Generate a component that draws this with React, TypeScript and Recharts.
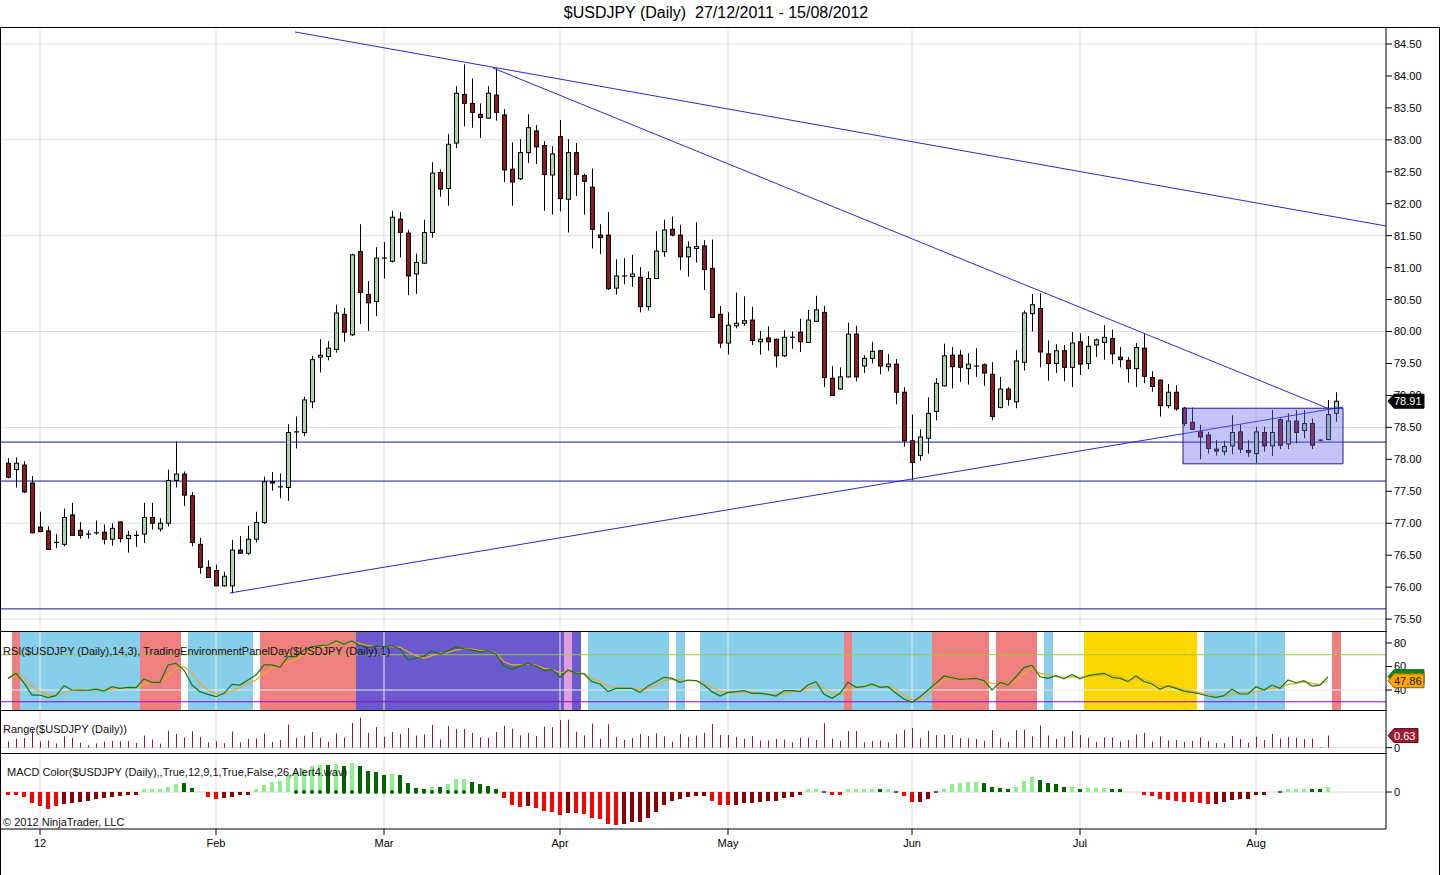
import React from "react";
import {
  ComposedChart,
  Bar,
  Line,
  XAxis,
  YAxis,
  ReferenceLine,
  ReferenceArea,
  ReferenceDot,
} from "recharts";

// ---------------- DATA ----------------
const opens = [
  77.94, 77.84, 77.91, 77.63, 76.94, 76.88, 76.70, 76.67, 77.13, 76.89,
  76.83, 76.85, 76.86, 76.75, 77.02, 76.76, 76.81, 76.83, 77.09, 76.91,
  77.00, 77.67, 77.77, 77.43, 76.67, 76.31, 76.26, 76.02, 76.02, 76.58,
  76.53, 76.75, 77.01, 77.65, 77.57, 77.56, 78.43, 78.42, 78.90, 79.60,
  79.61, 79.72, 80.27, 79.95, 81.25, 80.58, 80.47, 81.14, 81.10, 81.76,
  81.54, 80.90, 81.07, 81.55, 82.49, 82.24, 82.95, 83.71, 83.57, 83.40,
  83.34, 83.70, 83.39, 82.54, 82.39, 82.80, 83.14, 82.91, 82.45, 83.05,
  82.07, 82.80, 82.44, 82.26, 81.51, 81.51, 80.68, 80.87, 80.86, 80.85,
  80.39, 80.83, 81.25, 81.60, 81.51, 81.17, 81.30, 81.34, 80.99, 80.27,
  79.82, 80.09, 80.13, 80.18, 79.84, 79.90, 79.88, 79.62, 79.91, 79.99,
  79.83, 80.16, 80.30, 79.27, 79.10, 79.29, 79.96, 79.46, 79.58, 79.70,
  79.45, 79.49, 79.05, 78.29, 78.06, 78.33, 78.75, 79.15, 79.63, 79.63,
  79.42, 79.46, 79.48, 79.33, 78.81, 79.10, 78.90, 79.52, 80.28, 80.36,
  79.65, 79.50, 79.70, 79.44, 79.84, 79.50, 79.79, 79.83, 79.89, 79.60,
  79.55, 79.42, 79.74, 79.28, 79.24, 78.84, 79.05, 78.80, 78.58, 78.43,
  78.38, 78.16, 78.12, 78.21, 78.43, 78.14, 78.09, 78.42, 78.21, 78.62,
  78.24, 78.60, 78.45, 78.56, 78.30, 78.31, 78.72,
];
const highs = [
  78.02, 78.03, 77.97, 77.74, 77.18, 76.95, 76.83, 77.23, 77.32, 77.02,
  76.89, 77.04, 76.98, 77.00, 77.03, 76.88, 76.88, 77.32, 77.32, 77.08,
  77.84, 78.28, 77.81, 77.49, 76.77, 76.42, 76.35, 76.24, 76.74, 76.80,
  76.96, 77.18, 77.73, 77.80, 77.78, 78.55, 78.67, 78.98, 79.62, 79.88,
  79.85, 80.42, 80.37, 81.22, 81.68, 80.79, 81.32, 81.40, 81.89, 81.87,
  81.59, 81.22, 81.75, 82.65, 82.54, 83.09, 83.84, 84.18, 83.96, 83.57,
  83.84, 84.12, 83.48, 82.96, 83.01, 83.40, 83.23, 82.98, 82.90, 83.31,
  83.01, 82.95, 82.47, 82.55, 81.68, 81.87, 81.13, 81.15, 81.20, 81.01,
  80.94, 81.57, 81.75, 81.80, 81.67, 81.41, 81.71, 81.43, 81.44, 80.40,
  80.30, 80.61, 80.55, 80.39, 80.01, 80.08, 79.89, 80.02, 80.00, 80.20,
  80.34, 80.56, 80.40, 79.46, 79.44, 80.14, 80.09, 79.63, 79.84, 79.71,
  79.65, 79.57, 79.13, 78.70, 78.47, 78.97, 79.27, 79.81, 79.76, 79.71,
  79.66, 79.74, 79.50, 79.52, 79.29, 79.13, 79.71, 80.33, 80.59, 80.60,
  79.86, 79.80, 79.79, 79.99, 79.97, 79.93, 79.89, 80.10, 80.03, 79.76,
  79.60, 79.82, 79.96, 79.38, 79.25, 79.18, 79.16, 78.82, 78.81, 78.54,
  78.43, 78.30, 78.29, 78.69, 78.55, 78.30, 78.51, 78.51, 78.77, 78.64,
  78.72, 78.77, 78.77, 78.64, 78.31, 78.93, 79.05,
];
const lows = [
  77.70, 77.56, 77.47, 76.84, 76.86, 76.58, 76.61, 76.64, 76.81, 76.76,
  76.76, 76.82, 76.67, 76.65, 76.70, 76.54, 76.63, 76.69, 76.90, 76.87,
  76.95, 77.56, 77.27, 76.64, 76.21, 76.15, 76.02, 76.01, 75.90, 76.53,
  76.50, 76.70, 76.99, 77.51, 77.39, 77.35, 78.17, 78.36, 78.80, 79.36,
  79.55, 79.67, 79.84, 79.93, 80.12, 80.01, 80.24, 80.83, 81.08, 81.16,
  80.57, 80.59, 81.06, 81.47, 82.11, 81.97, 82.87, 83.21, 83.19, 83.03,
  83.33, 83.30, 82.34, 81.97, 82.37, 82.64, 82.62, 81.89, 81.83, 81.88,
  81.55, 82.12, 81.83, 81.30, 81.21, 80.65, 80.58, 80.74, 80.70, 80.30,
  80.33, 80.82, 81.17, 81.49, 80.96, 80.86, 81.08, 80.65, 80.21, 79.74,
  79.64, 80.05, 80.09, 79.79, 79.64, 79.70, 79.44, 79.60, 79.73, 79.68,
  79.82, 80.15, 79.13, 78.99, 79.09, 79.28, 79.22, 79.35, 79.50, 79.33,
  79.38, 78.86, 78.20, 77.67, 77.98, 78.09, 78.61, 79.14, 79.11, 79.21,
  79.17, 79.29, 79.15, 78.61, 78.80, 78.84, 78.80, 79.39, 80.00, 79.44,
  79.23, 79.35, 79.22, 79.13, 79.32, 79.41, 79.60, 79.56, 79.49, 79.44,
  79.20, 79.13, 79.19, 79.06, 78.67, 78.80, 78.76, 78.52, 78.46, 78.00,
  78.09, 78.06, 78.06, 78.08, 78.10, 78.04, 77.94, 78.12, 78.05, 78.16,
  78.16, 78.25, 78.33, 78.16, 78.28, 78.30, 78.59,
];
const closes = [
  77.72, 77.94, 77.49, 76.85, 76.87, 76.59, 76.70, 77.09, 76.81, 76.81,
  76.82, 76.84, 76.75, 76.92, 76.76, 76.81, 76.81, 77.09, 77.00, 77.00,
  77.67, 77.77, 77.44, 76.70, 76.31, 76.15, 76.02, 76.17, 76.58, 76.53,
  76.75, 77.01, 77.65, 77.63, 77.57, 78.42, 78.43, 78.93, 79.56, 79.63,
  79.74, 80.29, 79.99, 81.20, 80.61, 80.45, 81.15, 81.15, 81.79, 81.55,
  80.87, 81.08, 81.55, 82.48, 82.23, 82.93, 83.73, 83.57, 83.43, 83.35,
  83.73, 83.43, 82.53, 82.34, 82.80, 83.19, 82.89, 82.46, 82.78, 82.08,
  82.80, 82.46, 82.35, 81.60, 81.47, 80.67, 80.87, 80.87, 80.90, 80.39,
  80.83, 81.26, 81.59, 81.51, 81.17, 81.32, 81.33, 80.97, 80.22, 79.82,
  80.10, 80.13, 80.17, 79.86, 79.88, 79.84, 79.62, 79.91, 79.91, 79.84,
  80.18, 80.34, 79.28, 79.00, 79.29, 79.96, 79.29, 79.58, 79.69, 79.46,
  79.49, 79.05, 78.29, 77.95, 78.35, 78.72, 79.19, 79.62, 79.45, 79.44,
  79.49, 79.46, 79.35, 78.67, 79.10, 78.94, 79.54, 80.29, 80.42, 79.68,
  79.50, 79.70, 79.44, 79.82, 79.49, 79.77, 79.87, 79.91, 79.65, 79.56,
  79.42, 79.75, 79.30, 79.14, 78.84, 79.05, 78.79, 78.56, 78.47, 78.35,
  78.17, 78.13, 78.20, 78.42, 78.16, 78.11, 78.43, 78.21, 78.42, 78.22,
  78.60, 78.42, 78.56, 78.22, 78.29, 78.70, 78.91,
];

const rsiValues = [
  49.9, 54.2, 46, 35.7, 35.7, 33.5, 35.2, 43.7, 40, 39.8,
  39.8, 40.8, 39.1, 42.8, 41.4, 42.3, 42, 49.4, 46.5, 46.5,
  61.3, 62.7, 57, 44.2, 38.6, 36.3, 34.3, 37.2, 44.8, 44.2,
  48.5, 52.8, 61.3, 61.3, 59.3, 68.4, 68.4, 74, 76.9, 77.7,
  78.3, 81.7, 79.1, 81.7, 77.7, 76, 77.4, 76.9, 77.7, 74.9,
  65.5, 67, 68.9, 73.2, 70.4, 73.2, 76.9, 74.9, 74, 72.6,
  73.5, 70.6, 60.4, 57.6, 60.4, 62.7, 60.4, 56.5, 57.6, 50.8,
  57, 54.2, 53.6, 47.1, 45.1, 38.6, 41.4, 41.4, 41.4, 38,
  43.4, 47.1, 50.8, 49.9, 46.5, 48.5, 48, 44.2, 38.6, 34.9,
  38, 38.6, 39.4, 37.2, 37.2, 36.3, 34.9, 39.4, 39.4, 38.6,
  44.2, 47.1, 36.3, 32.9, 37.2, 46.5, 42.3, 42.8, 45.1, 42.3,
  42.8, 37.2, 32.3, 29.5, 34.3, 40, 45.7, 51.9, 50.5, 49.1,
  49.4, 49.9, 48, 40, 46.5, 44.2, 51.3, 59.3, 61, 51.3,
  49.9, 52.2, 49.4, 53.3, 49.4, 52.2, 53.3, 54.2, 50.8, 49.9,
  47.1, 52.2, 47.1, 45.1, 40.6, 43.7, 41.4, 39.1, 38, 36.6,
  34.9, 33.8, 35.2, 40.6, 36.6, 36.6, 42.8, 40, 44.2, 41.4,
  48.5, 46.2, 48, 43.4, 44.2, 51.3,
];
const rsiAvgValues = [
  50, 52.8, 50, 42.8, 38.6, 35.7, 35.7, 37.7, 40, 40.5,
  39.8, 40, 40, 40.8, 41.4, 42, 42, 44.8, 46.5, 47,
  52.2, 58.4, 59.9, 54.2, 45.7, 40, 37.2, 36.6, 39.1, 42,
  45.7, 48.5, 54.2, 58.4, 60.4, 63.5, 66.1, 70.4, 73.5, 76,
  77.7, 79.7, 79.7, 80.6, 79.7, 77.7, 76.9, 76.9, 76.9, 76.3,
  72.6, 69.2, 67, 69.2, 71.2, 72, 74, 74.9, 74.9, 73.5,
  73.5, 71.2, 64.1, 61.3, 61.3, 62.1, 61.3, 58.4, 57.6, 54.7,
  55.6, 54.7, 54.2, 49.9, 47.1, 43.4, 42.3, 41.4, 41.4, 40,
  41.4, 44.2, 48, 49.1, 48.5, 48, 48, 46.2, 42.3, 38.6,
  37.7, 37.9, 38.6, 37.9, 37.2, 36.6, 35.7, 37.2, 38.6, 39.1,
  41.4, 44.2, 41.4, 37.2, 35.7, 40, 42.3, 43.4, 44.2, 43.4,
  42.8, 40.6, 35.7, 32.3, 32.1, 36.6, 44.2, 48.5, 49.9, 50.2,
  49.9, 49.9, 48.5, 45.7, 45.1, 44.2, 48, 54.2, 58.4, 54.2,
  52.8, 51.3, 50.8, 51.3, 50.8, 51.3, 52.2, 53.3, 52.8, 51.3,
  48.5, 49.9, 49.1, 46.2, 43.4, 42.8, 42.3, 40, 39.1, 37.7,
  36.3, 34.9, 34.7, 36.6, 37.2, 37.7, 38.6, 40, 41.4, 42.3,
  44.8, 45.7, 47.1, 45.7, 44.8, 47.86,
];

const macdValues = [
  -0.01, -0.01, -0.05, -0.11, -0.14, -0.17, -0.14, -0.12, -0.11, -0.10,
  -0.09, -0.07, -0.06, -0.05, -0.04, -0.03, -0.01, 0.01, 0.01, 0.02,
  0.05, 0.08, 0.09, 0.04, 0, -0.05, -0.07, -0.06, -0.05, -0.03,
  -0.01, 0.01, 0.07, 0.10, 0.11, 0.17, 0.21, 0.23, 0.26, 0.27,
  0.27, 0.28, 0.26, 0.29, 0.26, 0.21, 0.20, 0.17, 0.18, 0.17,
  0.09, 0.04, 0.02, 0.05, 0.05, 0.08, 0.13, 0.13, 0.10, 0.08,
  0.06, 0.02, -0.06, -0.13, -0.15, -0.14, -0.16, -0.19, -0.20, -0.23,
  -0.21, -0.21, -0.22, -0.26, -0.27, -0.32, -0.33, -0.32, -0.30, -0.30,
  -0.26, -0.20, -0.13, -0.09, -0.07, -0.05, -0.04, -0.04, -0.09, -0.13,
  -0.13, -0.13, -0.11, -0.11, -0.10, -0.09, -0.09, -0.06, -0.05, -0.03,
  0.005, 0.02, -0.005, -0.03, -0.03, 0.005, 0.005, 0.01, 0.01, 0.01,
  0.005, -0.005, -0.04, -0.10, -0.10, -0.07, -0.005, 0.03, 0.08, 0.09,
  0.10, 0.10, 0.09, 0.05, 0.04, 0.03, 0.05, 0.11, 0.15, 0.12,
  0.09, 0.08, 0.05, 0.05, 0.03, 0.04, 0.04, 0.04, 0.02, 0.01,
  0, 0, -0.01, -0.04, -0.07, -0.08, -0.09, -0.10, -0.10, -0.11,
  -0.12, -0.12, -0.10, -0.08, -0.07, -0.07, -0.03, -0.02, 0, -0.005,
  0.01, 0.02, 0.03, 0.03, 0.03, 0.05,
];
// R = falling red, r = rising dark red, G = rising light green, g = falling dark green, n = neutral
const macdColorCodes =
  "RRRRRRR" + "rrrrrrrrrr" + "GGGGG" + "gg" + "n" + "RR" + "rrrr" + "GGGGGGGGG" +
  "g" + "G" + "g" + "G" + "gggg" + "G" + "gggg" + "G" + "g" + "GGG" + "gggg" +
  "RRR" + "r" + "RRRR" + "r" + "RRRRRR" + "rrrrrrrrrrr" + "RRR" + "rrrrrrrrr" +
  "GG" + "n" + "RR" + "GGGG" + "g" + "G" + "n" + "RR" + "rr" + "n" + "GGGGG" +
  "gggg" + "GGG" + "gggg" + "G" + "g" + "GGG" + "gg" + "nn" + "RRRRRRRRR" +
  "rrrrrrr" + "nn" + "GGG" + "gg" + "G";
const macdZeroDotFrom = 36;
const macdZeroDotTo = 61;

// Trading environment background: [code, firstBar, lastBar]
const bandSegments: [string, number, number][] = [
  ["W", 0, 0], ["R", 1, 1], ["B", 2, 16], ["R", 17, 21], ["W", 22, 22],
  ["B", 23, 30], ["W", 31, 31], ["R", 32, 43], ["S", 44, 69], ["P", 70, 70],
  ["S", 71, 71], ["W", 72, 72], ["B", 73, 82], ["W", 83, 83], ["B", 84, 84],
  ["W", 85, 86], ["B", 87, 104], ["R", 105, 105], ["B", 106, 115], ["R", 116, 122],
  ["W", 123, 123], ["R", 124, 128], ["W", 129, 129], ["B", 130, 130], ["W", 131, 134],
  ["Y", 135, 148], ["W", 149, 149], ["B", 150, 159], ["W", 160, 165], ["R", 166, 166],
];

const monthTickBars = [4, 26, 47, 69, 90, 113, 134, 156];
const monthTickLabels = ["12", "Feb", "Mar", "Apr", "May", "Jun", "Jul", "Aug"];
const priceTicks = [
  75.5, 76, 76.5, 77, 77.5, 78, 78.5, 79, 79.5, 80, 80.5, 81, 81.5, 82, 82.5, 83, 83.5, 84, 84.5,
];
const priceGridValues = [75.5, 77, 78.5, 80, 81.5, 83, 84.5];
const rsiTicks = [40, 60, 80];
const horizontalLevels = [78.27, 77.66, 75.66];
const trendLines: [number, number, number, number][] = [
  [35.875, 84.688, 172.25, 81.652],
  [60.625, 84.124, 165.25, 78.785],
  [27.75, 75.909, 166.875, 78.819],
];
const consolidationBox = { x1: 146.875, x2: 166.875, y1: 77.93, y2: 78.8 };

// ---------------- STYLE ----------------
const FONT = '"Liberation Sans", Arial, Helvetica, sans-serif';
const X_DOMAIN: [number, number] = [-1, 172.25];
const PRICE_DOMAIN: [number, number] = [75.298, 84.766];
const RSI_DOMAIN: [number, number] = [22.13, 89.36];
const RANGE_DOMAIN: [number, number] = [-0.33, 1.91];
const MACD_DOMAIN: [number, number] = [-0.37, 0.38];
const UP = "#a8d6a8";
const DOWN = "#8b1c1c";
const NAVY = "#12129a";
const TREND = "#2a2ad0";
const GRID = "#dcdcdc";
const BAND_COLORS: Record<string, string> = {
  R: "#f08080",
  B: "#87ceeb",
  S: "#6a5acd",
  P: "#dda0dd",
  Y: "#ffd700",
};
const MACD_COLORS: Record<string, string> = {
  R: "#ff0000",
  r: "#8b0000",
  G: "#90ee90",
  g: "#006400",
  n: "#555555",
};
const MARGIN = { top: 0, right: 0, bottom: 0, left: 0 };
const tickStyle = { fontSize: 11, fill: "#000", fontFamily: FONT };

// ---------------- DERIVED TABLES ----------------
const bandCodes: string[] = [];
bandSegments.forEach(([c, a, b]) => {
  for (let k = a; k <= b; k++) bandCodes[k] = c;
});

const candles = opens.map((o, i) => ({
  i,
  o,
  h: highs[i],
  l: lows[i],
  c: closes[i],
  hl: [lows[i], highs[i]],
}));

const rsiData = opens.map((_, i) => ({
  i,
  band: bandCodes[i] || "W",
  span: [RSI_DOMAIN[0], RSI_DOMAIN[1]],
  rsi: i < rsiValues.length ? rsiValues[i] : null,
  avg: i < rsiAvgValues.length ? rsiAvgValues[i] : null,
}));

const rangeData = rsiValues.map((_, i) => ({ i, r: +(highs[i] - lows[i]).toFixed(2) }));

const macdData = macdValues.map((v, i) => ({
  i,
  v,
  code: macdColorCodes[i] || "n",
  dot: i >= macdZeroDotFrom && i <= macdZeroDotTo ? 0 : null,
}));

// ---------------- SHAPES ----------------
function Candle(props: any) {
  const { x, y, width, height, payload } = props;
  if (x == null || y == null || !payload) return <g />;
  const top = Math.min(y, y + height);
  const bottom = Math.max(y, y + height);
  const span = payload.h - payload.l;
  const k = span > 0 ? (bottom - top) / span : 0;
  const yOf = (p: number) => top + (payload.h - p) * k;
  const cx = Math.round(x + width / 2) + 0.5;
  const up = payload.c >= payload.o;
  const bTop = yOf(Math.max(payload.o, payload.c));
  const bBot = yOf(Math.min(payload.o, payload.c));
  return (
    <g>
      <line x1={cx} x2={cx} y1={top} y2={bottom} stroke="#000" strokeWidth={1} />
      {bBot - bTop < 1.2 ? (
        <line x1={cx - 2.5} x2={cx + 2.5} y1={bTop} y2={bTop} stroke="#000" strokeWidth={1.2} />
      ) : (
        <rect
          x={cx - 2}
          y={bTop}
          width={4}
          height={bBot - bTop}
          fill={up ? UP : DOWN}
          stroke="#000"
          strokeWidth={1}
        />
      )}
    </g>
  );
}

function BandRect(props: any) {
  const { x, y, width, height, payload } = props;
  const col = payload ? BAND_COLORS[payload.band] : undefined;
  if (!col || x == null) return <g />;
  const cx = Math.round(x + width / 2);
  return (
    <rect
      x={cx - 4}
      y={Math.min(y, y + height)}
      width={8.6}
      height={Math.abs(height)}
      fill={col}
      shapeRendering="crispEdges"
    />
  );
}

function RangeStick(props: any) {
  const { x, y, width, height } = props;
  if (x == null || y == null) return <g />;
  const cx = Math.round(x + width / 2) + 0.5;
  return (
    <line
      x1={cx}
      x2={cx}
      y1={Math.min(y, y + height)}
      y2={Math.max(y, y + height)}
      stroke="#8b1a2e"
      strokeWidth={1}
    />
  );
}

function MacdBar(props: any) {
  const { x, y, width, height, payload } = props;
  if (x == null || y == null || !payload) return <g />;
  const v = payload.v;
  const cx = Math.round(x + width / 2);
  const y1 = Math.min(y, y + height);
  const y2 = Math.max(y, y + height);
  const zeroY = v >= 0 ? y2 : y1;
  const col = MACD_COLORS[payload.code];
  if (payload.code === "n") {
    if (v === 0) return <g />;
    return <rect x={cx - 2} y={zeroY - 1} width={4} height={2} fill={col} shapeRendering="crispEdges" />;
  }
  const h = Math.max(y2 - y1, 3);
  const top = v >= 0 ? zeroY - h : zeroY;
  return <rect x={cx - 2} y={top} width={4} height={h} fill={col} shapeRendering="crispEdges" />;
}

function Badge(props: any) {
  const { cx, cy, text, fill, color, stroke } = props;
  if (cx == null || cy == null) return <g />;
  const x = cx + 2;
  const w = 6 + text.length * 6;
  const h = 14;
  return (
    <g>
      <path
        d={`M${x},${cy} L${x + 6},${cy - h / 2} L${x + w},${cy - h / 2} L${x + w},${cy + h / 2} L${x + 6},${cy + h / 2} Z`}
        fill={fill}
        stroke={stroke}
        strokeWidth={1}
      />
      <text x={x + 6} y={cy} dy="0.36em" fontSize={11} fontFamily={FONT} fill={color}>
        {text}
      </text>
    </g>
  );
}

// ---------------- CHART ----------------
const abs = (top: number): React.CSSProperties => ({ position: "absolute", left: 0, top });
const hLine = (top: number, width: number): React.CSSProperties => ({
  position: "absolute",
  left: 0,
  top,
  width,
  height: 1,
  background: "#000",
});
const labelStyle = (left: number, top: number): React.CSSProperties => ({
  position: "absolute",
  left,
  top,
  fontSize: 11,
  lineHeight: "13px",
  fontFamily: FONT,
  color: "#111",
  whiteSpace: "pre",
  pointerEvents: "none",
});

const hiddenX = (
  <XAxis dataKey="i" type="number" domain={X_DOMAIN} hide allowDataOverflow />
);

export default function App() {
  const lastIdx = closes.length - 1;
  const lastInd = rsiValues.length - 1;
  return (
    <div
      style={{
        position: "absolute",
        left: 0,
        top: 0,
        width: 1440,
        height: 875,
        background: "#fff",
        overflow: "hidden",
        fontFamily: FONT,
      }}
    >
      <div
        style={{
          position: "absolute",
          left: 0,
          top: 4,
          width: 1432,
          textAlign: "center",
          fontSize: 16,
          lineHeight: "18px",
          color: "#000",
          whiteSpace: "pre",
        }}
      >
        {"$USDJPY (Daily)  27/12/2011 - 15/08/2012"}
      </div>

      {/* PRICE PANEL */}
      <div style={abs(27)}>
        <ComposedChart width={1440} height={605} data={candles} margin={MARGIN}>
          {hiddenX}
          <YAxis
            orientation="right"
            width={54}
            domain={PRICE_DOMAIN}
            ticks={priceTicks}
            interval={0}
            allowDataOverflow
            tickFormatter={(v: number) => v.toFixed(2)}
            tick={tickStyle}
            tickLine={{ stroke: "#000" }}
            axisLine={{ stroke: "#000" }}
            tickSize={6}
            tickMargin={2}
          />
          {priceGridValues.map((v) => (
            <ReferenceLine key={"pg" + v} y={v} stroke={GRID} zIndex={100} ifOverflow="visible" />
          ))}
          {monthTickBars.map((b) => (
            <ReferenceLine key={"pv" + b} x={b} stroke={GRID} zIndex={100} />
          ))}
          {horizontalLevels.map((v) => (
            <ReferenceLine key={"hl" + v} y={v} stroke={NAVY} strokeWidth={1} zIndex={250} />
          ))}
          <Bar dataKey="hl" barSize={5} shape={Candle} isAnimationActive={false} zIndex={300} />
          {trendLines.map((t, k) => (
            <ReferenceLine
              key={"tl" + k}
              segment={[
                { x: t[0], y: t[1] },
                { x: t[2], y: t[3] },
              ]}
              stroke={TREND}
              strokeWidth={1}
              zIndex={450}
              ifOverflow="visible"
            />
          ))}
          <ReferenceArea
            x1={consolidationBox.x1}
            x2={consolidationBox.x2}
            y1={consolidationBox.y1}
            y2={consolidationBox.y2}
            fill="#6a6ae8"
            fillOpacity={0.4}
            stroke="#1a1aa0"
            strokeWidth={1}
            zIndex={460}
            ifOverflow="visible"
          />
          <ReferenceDot
            x={X_DOMAIN[1]}
            y={closes[lastIdx]}
            r={0}
            ifOverflow="visible"
            zIndex={2000}
            shape={(p: any) => (
              <Badge cx={p.cx} cy={p.cy} text={closes[lastIdx].toFixed(2)} fill="#000" color="#fff" stroke="#000" />
            )}
          />
        </ComposedChart>
      </div>

      {/* RSI PANEL */}
      <div style={abs(632)}>
        <ComposedChart width={1440} height={79} data={rsiData} margin={MARGIN}>
          {hiddenX}
          <YAxis
            orientation="right"
            width={54}
            domain={RSI_DOMAIN}
            ticks={rsiTicks}
            interval={0}
            allowDataOverflow
            tick={tickStyle}
            tickLine={{ stroke: "#000" }}
            axisLine={{ stroke: "#000" }}
            tickSize={6}
            tickMargin={2}
          />
          <Bar dataKey="span" barSize={8} shape={BandRect} isAnimationActive={false} zIndex={300} />
          {monthTickBars.map((b) => (
            <ReferenceLine key={"rv" + b} x={b} stroke="#ececec" zIndex={350} />
          ))}
          <ReferenceLine y={40} stroke="#ececec" zIndex={350} />
          <ReferenceLine y={70} stroke="#9acd32" zIndex={360} />
          <ReferenceLine y={30} stroke="#9400d3" zIndex={360} />
          <Line
            dataKey="avg"
            stroke="#f5a623"
            strokeWidth={1.2}
            dot={false}
            activeDot={false}
            isAnimationActive={false}
            zIndex={400}
          />
          <Line
            dataKey="rsi"
            stroke="#127a12"
            strokeWidth={1.2}
            dot={false}
            activeDot={false}
            isAnimationActive={false}
            zIndex={410}
          />
          <ReferenceDot
            x={X_DOMAIN[1]}
            y={rsiValues[lastInd]}
            r={0}
            ifOverflow="visible"
            zIndex={2000}
            shape={(p: any) => (
              <Badge cx={p.cx} cy={p.cy} text={rsiValues[lastInd].toFixed(2)} fill="#0c8a0c" color="#fff" stroke="#063" />
            )}
          />
          <ReferenceDot
            x={X_DOMAIN[1]}
            y={rsiAvgValues[lastInd]}
            r={0}
            ifOverflow="visible"
            zIndex={2001}
            shape={(p: any) => (
              <Badge cx={p.cx} cy={p.cy} text={rsiAvgValues[lastInd].toFixed(2)} fill="#ffa500" color="#222" stroke="#8a5a00" />
            )}
          />
        </ComposedChart>
      </div>

      {/* RANGE PANEL */}
      <div style={abs(711)}>
        <ComposedChart width={1440} height={43} data={rangeData} margin={MARGIN}>
          {hiddenX}
          <YAxis
            orientation="right"
            width={54}
            domain={RANGE_DOMAIN}
            ticks={[0]}
            interval={0}
            allowDataOverflow
            tick={tickStyle}
            tickLine={{ stroke: "#000" }}
            axisLine={{ stroke: "#000" }}
            tickSize={6}
            tickMargin={2}
          />
          {monthTickBars.map((b) => (
            <ReferenceLine key={"gv" + b} x={b} stroke={GRID} zIndex={100} />
          ))}
          <ReferenceLine y={0} stroke={GRID} zIndex={100} />
          <Bar dataKey="r" barSize={1} shape={RangeStick} isAnimationActive={false} zIndex={300} />
          <ReferenceDot
            x={X_DOMAIN[1]}
            y={rangeData[rangeData.length - 1].r}
            r={0}
            ifOverflow="visible"
            zIndex={2000}
            shape={(p: any) => (
              <Badge
                cx={p.cx}
                cy={p.cy}
                text={rangeData[rangeData.length - 1].r.toFixed(2)}
                fill="#9b1b30"
                color="#fff"
                stroke="#5a0a18"
              />
            )}
          />
        </ComposedChart>
      </div>

      {/* MACD PANEL */}
      <div style={abs(754)}>
        <ComposedChart width={1440} height={121} data={macdData} margin={MARGIN}>
          <XAxis
            dataKey="i"
            type="number"
            domain={X_DOMAIN}
            allowDataOverflow
            ticks={monthTickBars}
            interval={0}
            tickFormatter={(v: number) => monthTickLabels[monthTickBars.indexOf(v)] ?? ""}
            height={46}
            tick={tickStyle}
            tickLine={{ stroke: "#000" }}
            axisLine={{ stroke: "#000" }}
            tickSize={6}
            tickMargin={4}
          />
          <YAxis
            orientation="right"
            width={54}
            domain={MACD_DOMAIN}
            ticks={[0]}
            interval={0}
            allowDataOverflow
            tick={tickStyle}
            tickLine={{ stroke: "#000" }}
            axisLine={{ stroke: "#000" }}
            tickSize={6}
            tickMargin={2}
          />
          {monthTickBars.map((b) => (
            <ReferenceLine key={"mv" + b} x={b} stroke={GRID} zIndex={100} />
          ))}
          <ReferenceLine y={0} stroke={GRID} zIndex={100} />
          <Bar dataKey="v" barSize={4} shape={MacdBar} isAnimationActive={false} zIndex={300} />
          <Line
            dataKey="dot"
            stroke="none"
            dot={{ r: 2, fill: "#006400", stroke: "none" }}
            activeDot={false}
            isAnimationActive={false}
            zIndex={400}
          />
        </ComposedChart>
      </div>

      {/* frame & separators */}
      <div
        style={{
          position: "absolute",
          left: 0,
          top: 27,
          width: 1440,
          height: 848,
          boxSizing: "border-box",
          borderTop: "1px solid #000",
          borderLeft: "1px solid #000",
          borderRight: "1px solid #000",
          pointerEvents: "none",
        }}
      />
      <div style={hLine(631, 1387)} />
      <div style={hLine(710, 1387)} />
      <div style={hLine(753, 1387)} />

      {/* panel captions */}
      <div style={labelStyle(3, 645)}>
        {"RSI($USDJPY (Daily),14,3), TradingEnvironmentPanelDay($USDJPY (Daily),1)"}
      </div>
      <div style={labelStyle(3, 723)}>{"Range($USDJPY (Daily))"}</div>
      <div style={labelStyle(7, 766)}>
        {"MACD Color($USDJPY (Daily),,True,12,9,1,True,False,26,Alert4.wav)"}
      </div>
      <div style={labelStyle(3, 816)}>{"© 2012 NinjaTrader, LLC"}</div>
    </div>
  );
}
